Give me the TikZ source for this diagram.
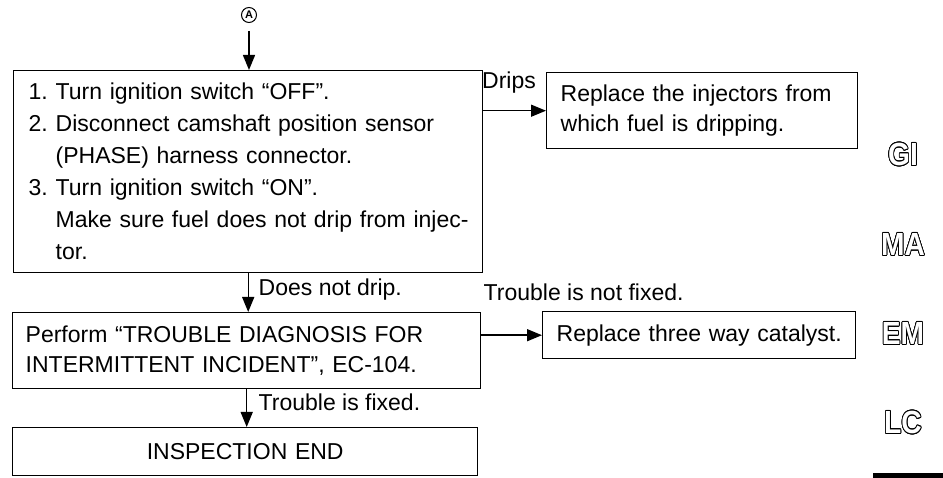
\documentclass[tikz,border=0pt]{standalone}
\usepackage{fontspec}
\setmainfont{Liberation Sans}
\usepackage{contour}
\usetikzlibrary{arrows.meta}

\contourlength{0.9pt}
\newcommand{\stepnum}[1]{\makebox[27pt][l]{#1}}

\begin{document}
\begin{tikzpicture}[x=1pt, y=-1pt, line width=1.4pt,
    >={Triangle[length=15pt,width=12pt]},
    font=\fontsize{23}{30}\selectfont,
    box/.style={draw, rectangle, anchor=north west, align=left, inner ysep=0pt},
    lbl/.style={inner sep=0pt},
    tab/.style={inner sep=0pt, font=\bfseries\fontsize{32}{32}\selectfont}]
    \useasboundingbox (0,0) rectangle (943,478);
    \node[draw, circle, minimum size=15pt, inner sep=0pt, line width=1pt, font=\bfseries\fontsize{11}{11}\selectfont] (start) at (249,15) {A};
    \node[box, inner xsep=15pt, text width=439pt, minimum height=202pt, font=\fontsize{23}{32}\selectfont] (s1) at (13,70)
      {\stepnum{1.}Turn ignition switch “OFF”.\\
       \stepnum{2.}Disconnect camshaft position sensor\\
       \stepnum{}(PHASE) harness connector.\\
       \stepnum{3.}Turn ignition switch “ON”.\\
       \stepnum{}\mbox{Make sure fuel does not drip from injec-}\\
       \stepnum{}tor.};
    \node[box, inner xsep=14pt, text width=283pt, minimum height=76pt] (s2) at (546,72)
      {Replace the injectors from\\which fuel is dripping.};
    \node[box, inner xsep=13pt, text width=442pt, minimum height=76pt] (s3) at (12,312)
      {Perform “TROUBLE DIAGNOSIS FOR\\INTERMITTENT INCIDENT”, EC-104.};
    \node[box, align=center, inner xsep=5pt, text width=303pt, minimum height=47pt] (s4) at (542,311)
      {Replace three way catalyst.};
    \node[box, align=center, inner xsep=5pt, text width=455pt, minimum height=48pt] (s5) at (12,427)
      {INSPECTION END};
    \node[lbl] (drips) at (509,83) {Drips};
    \node[lbl, anchor=west] (nodrip) at (258,290) {Does not drip.};
    \node[lbl, anchor=west] (notfixed) at (483,292) {Trouble is not fixed.};
    \node[lbl, anchor=west] (fixed) at (258,402) {Trouble is fixed.};
    \draw[->, shorten <=8pt] (start) -- (start |- s1.north);
    \draw[->] (s1.east |- s2.west) -- (s2.west);
    \draw[->] (s1.south) -- (s1.south |- s3.north);
    \draw[->] (s3.east |- s4.west) -- (s4.west);
    \draw[->] (s3.south) -- (s3.south |- s5.north);
    % section tabs
    \foreach \t/\y in {GI/155, MA/245, EM/334, LC/423}
      \node[tab] (tab\t) at (903,\y) {\scalebox{0.88}[1]{\color{white}\contour{black}{\t}}};
    \fill (873,473) rectangle (943,478);
\end{tikzpicture}
\end{document}
